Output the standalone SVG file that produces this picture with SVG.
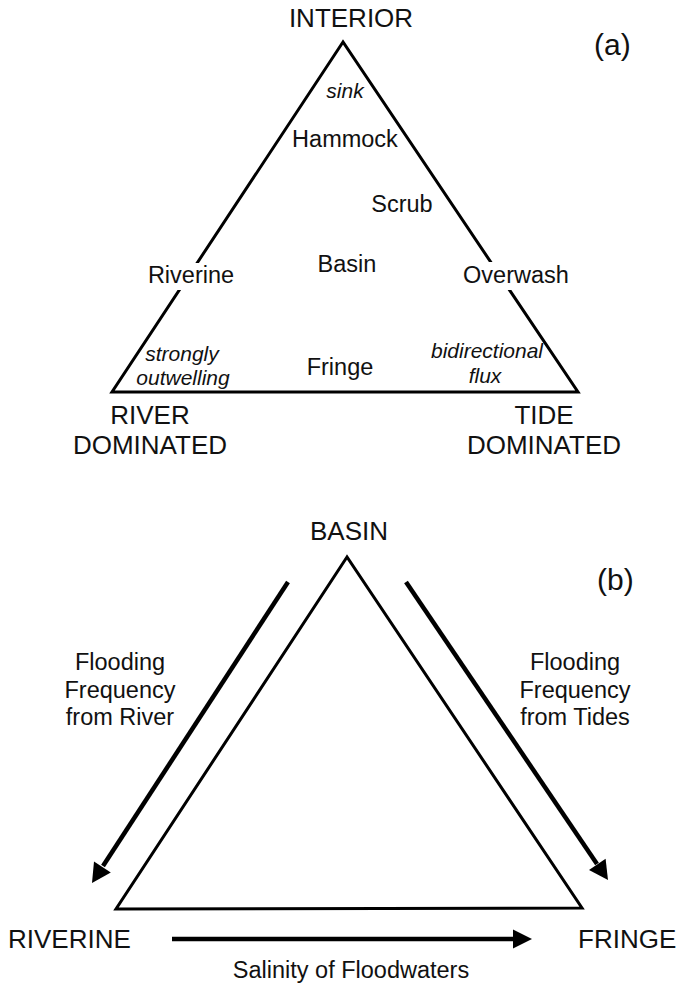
<svg xmlns="http://www.w3.org/2000/svg" width="678" height="984" viewBox="0 0 678 984">
<style>
text{font-family:"Liberation Sans",Arial,sans-serif;fill:#111;}
.big{font-size:26px;}
.mid{font-size:23.5px;}
.it{font-size:21px;font-style:italic;}
.lbl{font-size:30px;}
.c{text-anchor:middle;}
.tri{fill:none;stroke:#000;stroke-width:3;stroke-linejoin:miter;}
.shaft{stroke:#000;stroke-width:4.5;fill:none;}
.head{fill:#000;stroke:none;}
.bg{fill:#fff;}
</style>
<g id="panel-a">
<g id="triangle-a"><polygon class="tri" points="343,42 112,392 578,392"/></g>
<g id="label-interior"><text class="big c" x="351" y="27">INTERIOR</text></g>
<g id="label-a"><text class="lbl" x="594" y="55">(a)</text></g>
<g id="label-sink"><text class="it c" x="345" y="98">sink</text></g>
<g id="label-hammock"><text class="mid c" x="345" y="147">Hammock</text></g>
<g id="label-scrub"><text class="mid c" x="402" y="212">Scrub</text></g>
<g id="label-riverine-a"><rect class="bg" x="146" y="263" width="90" height="27"/><text class="mid c" x="191" y="283">Riverine</text></g>
<g id="label-basin-a"><text class="mid c" x="347" y="272">Basin</text></g>
<g id="label-overwash"><rect class="bg" x="461" y="262" width="110" height="28"/><text class="mid c" x="516" y="283">Overwash</text></g>
<g id="label-strongly"><text class="it c" x="182" y="361">strongly</text><text class="it c" x="183" y="385">outwelling</text></g>
<g id="label-fringe-a"><text class="mid c" x="340" y="375">Fringe</text></g>
<g id="label-bidir"><text class="it c" x="487" y="358">bidirectional</text><text class="it c" x="485" y="383">flux</text></g>
<g id="label-river-dom"><text class="big c" x="150" y="424">RIVER</text><text class="big c" x="150" y="454">DOMINATED</text></g>
<g id="label-tide-dom"><text class="big c" x="544" y="424">TIDE</text><text class="big c" x="544" y="454">DOMINATED</text></g>
</g>
<g id="panel-b">
<g id="triangle-b"><polygon class="tri" points="347,557 116,909 582,908"/></g>
<g id="label-basin-b"><text class="big c" x="349" y="540">BASIN</text></g>
<g id="label-b"><text class="lbl" x="597" y="590">(b)</text></g>
<g id="label-flood-river"><text class="mid c" x="120" y="670">Flooding</text><text class="mid c" x="120" y="698">Frequency</text><text class="mid c" x="120" y="725">from River</text></g>
<g id="label-flood-tides"><text class="mid c" x="575" y="670">Flooding</text><text class="mid c" x="575" y="698">Frequency</text><text class="mid c" x="575" y="725">from Tides</text></g>
<g id="label-riverine-b"><text class="big" x="8" y="948">RIVERINE</text></g>
<g id="label-fringe-b"><text class="big" x="578" y="948">FRINGE</text></g>
<g id="label-salinity"><text class="mid c" x="351" y="978">Salinity of Floodwaters</text></g>
</g>
<g id="connectors">
<g id="arrow-river">
<line class="shaft" x1="288" y1="582" x2="103" y2="866"/>
<polygon class="head" points="92,883 110.8,872.6 94,861.6"/>
</g>
<g id="arrow-tides">
<line class="shaft" x1="406" y1="582" x2="597" y2="864"/>
<polygon class="head" points="608,880 605.6,858.7 589,869.9"/>
</g>
<g id="arrow-salinity">
<line class="shaft" x1="172" y1="939" x2="514" y2="939"/>
<polygon class="head" points="532,939 513,929.5 513,948.5"/>
</g>
</g>
</svg>
